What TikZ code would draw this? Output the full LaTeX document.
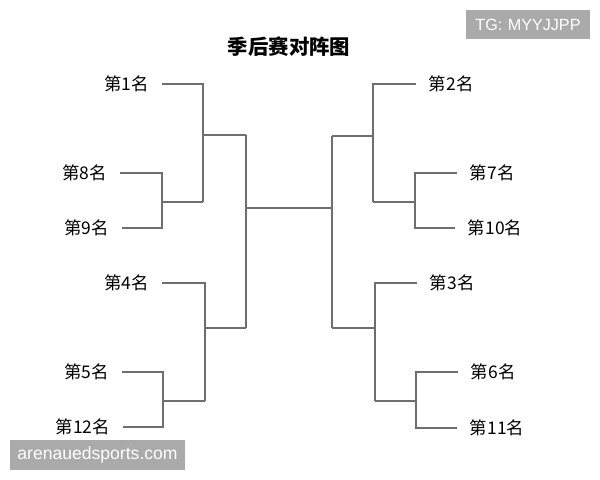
\documentclass[tikz,border=0pt]{standalone}
\usepackage{fontspec}
\setmainfont{Liberation Sans}
\newfontfamily\cjk{Noto Sans CJK SC}
\usepackage{tikz}
\usetikzlibrary{positioning}
\definecolor{linegray}{HTML}{6E6E6E}
\definecolor{markgray}{HTML}{AAAAAA}
\tikzset{
  seed/.style={
    shape=rectangle,
    font=\cjk\fontsize{12.4}{14}\selectfont,
    inner xsep=9pt,
    inner ysep=2pt,
  },
  bracket/.style={
  draw=linegray, line width=0.9pt
  },
  stamp/.style={
  fill=markgray, text=white, inner sep=0pt, align=center
  }
}

\begin{document}
\begin{tikzpicture}[x=0.025cm, y=-0.025cm]
\useasboundingbox (0,0) rectangle (600,480);

% Title
\node[font=\cjk\bfseries\fontsize{14.5}{16}\selectfont] (title) at (289,47) {季后赛对阵图};

% Left half
\node[seed, anchor=east] (s1) at (162,84) {第1名};
\node[seed, anchor=east] (s8) at (120,173) {第8名};
\node[seed, anchor=east] (s9) at (122,228) {第9名};
\node[seed, anchor=east] (s4) at (162,283) {第4名};
\node[seed, anchor=east] (s5) at (122,372) {第5名};
\node[seed, anchor=east] (s12) at (123,427) {第12名};

% Right half
\node[seed, anchor=west] (s2) at (416,84) {第2名};
\node[seed, anchor=west] (s7) at (457,173) {第7名};
\node[seed, anchor=west] (s10) at (455,228) {第10名};
\node[seed, anchor=west] (s3) at (417,283) {第3名};
\node[seed, anchor=west] (s6) at (458,372) {第6名};
\node[seed, anchor=west] (s11) at (457,428) {第11名};

% Junctions
\coordinate (v89) at (162,202);
\coordinate (v1) at (203,202);
\coordinate (q1) at (203,135);
\coordinate (f1) at (246,135);
\coordinate (v512) at (163,401);
\coordinate (v4) at (205,401);
\coordinate (q4) at (205,328);
\coordinate (f4) at (246,328);
\coordinate (v710) at (415,202);
\coordinate (v2) at (373,202);
\coordinate (q2) at (373,136);
\coordinate (f2) at (332,136);
\coordinate (v611) at (416,401);
\coordinate (v3) at (375,401);
\coordinate (q3) at (375,328);
\coordinate (f3) at (332,328);
\coordinate (cl) at (246,208);
\coordinate (cr) at (332,208);

% Brackets, left
\draw[bracket] (s8.east) -| (v89) |- (s9.east);
\draw[bracket] (v89) -- (v1);
\draw[bracket] (s1.east) -| (v1);
\draw[bracket] (q1) -- (f1);
\draw[bracket] (s5.east) -| (v512) |- (s12.east);
\draw[bracket] (v512) -- (v4);
\draw[bracket] (s4.east) -| (v4);
\draw[bracket] (q4) -- (f4);
\draw[bracket] (f1) -- (f4);

% Brackets, right
\draw[bracket] (s7.west) -| (v710) |- (s10.west);
\draw[bracket] (v710) -- (v2);
\draw[bracket] (s2.west) -| (v2);
\draw[bracket] (q2) -- (f2);
\draw[bracket] (s6.west) -| (v611) |- (s11.west);
\draw[bracket] (v611) -- (v3);
\draw[bracket] (s3.west) -| (v3);
\draw[bracket] (q3) -- (f3);
\draw[bracket] (f2) -- (f3);

% Final
\draw[bracket] (cl) -- (cr);

% Marks
\node[stamp, font=\fontsize{11.5}{13}\selectfont, minimum height=0.725cm, text width=3.1cm] (tg) at (528,24.5) {TG: MYYJJPP};
\node[stamp, font=\fontsize{12.5}{14}\selectfont, minimum height=0.75cm, text width=4.375cm] (site) at (97.5,455) {arenauedsports.com};

\end{tikzpicture}
\end{document}
